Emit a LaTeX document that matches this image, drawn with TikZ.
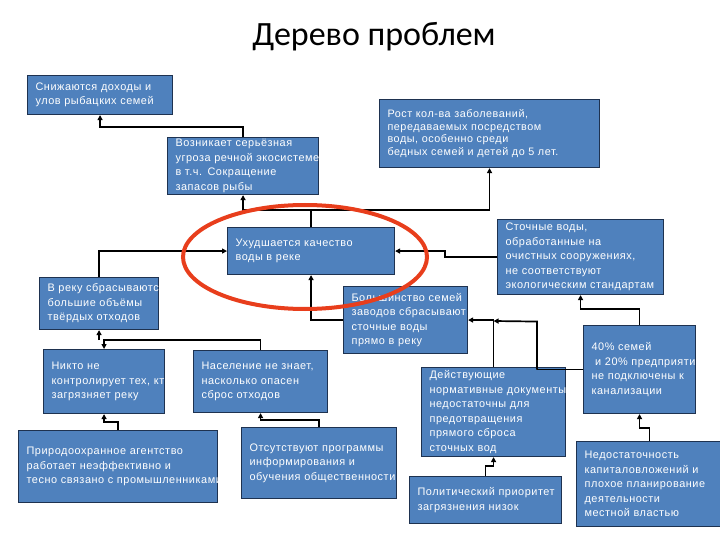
\documentclass[tikz,border=0pt]{standalone}
\usepackage{fontspec}
\setmainfont{Liberation Sans}[LetterSpace=5]
\newfontfamily\titlefont{Carlito}
\usetikzlibrary{arrows.meta}
\definecolor{boxfill}{RGB}{79,129,189}
\definecolor{boxline}{RGB}{30,50,80}
\definecolor{ovalred}{RGB}{232,62,28}
\hfuzz=300pt
\newcommand\Lx[1]{\mbox{#1}}
\newcommand\bx[7][]{%
  \pgfmathsetmacro\bw{#4-#2}\pgfmathsetmacro\bh{#5-#3}\pgfmathsetmacro\tw{#4-#2-16}%
  \begin{scope}
    \clip (#2-1,#3-1) rectangle (#4+1,#5+1);
    \node[box,#1,minimum width=\bw pt,minimum height=\bh pt,text width=\tw pt,anchor=north west] (#6) at (#2,#3) {#7};
  \end{scope}}
\begin{document}
\begin{tikzpicture}[x=1pt,y=-1pt,
  box/.style={draw=boxline,line width=1.1pt,fill=boxfill,text=white,align=left,
    inner xsep=8pt,inner ysep=1pt,font=\fontsize{10.9}{14.5}\selectfont},
  conn/.style={line width=1.7pt,-{Triangle[length=5pt,width=5pt]}},
  plain/.style={line width=1.7pt}]
\useasboundingbox (0,0) rectangle (720,540);
\node[font=\titlefont\fontsize{34}{38}\selectfont,anchor=base] (title) at (374,46) {Дерево проблем};
\bx{27}{75}{172}{114}{A}{\Lx{Снижаются доходы и}\\\Lx{улов рыбацких семей}}
\bx{167}{137}{318}{194}{B}{\Lx{Возникает серьёзная}\\\Lx{угроза речной экосистеме}\\\Lx{в т.ч. Сокращение}\\\Lx{запасов рыбы}}
\bx[font=\fontsize{10.8}{12.4}\selectfont]{379}{99}{599}{167}{C}{\Lx{Рост кол-ва заболеваний,}\\\Lx{передаваемых посредством}\\\Lx{воды, особенно среди}\\\Lx{бедных семей и детей до 5 лет.}}
\bx{227}{227}{394}{274}{D}{\Lx{Ухудшается качество}\\\Lx{воды в реке}}
\bx{39}{277}{158}{329}{E}{\Lx{В реку сбрасываются}\\\Lx{большие объёмы}\\\Lx{твёрдых отходов}}
\bx{343}{286}{467}{353}{F}{\Lx{Большинство семей}\\\Lx{заводов сбрасывают}\\\Lx{сточные воды}\\\Lx{прямо в реку}}
\bx{497}{219}{663}{294}{G}{\Lx{Сточные воды,}\\\Lx{обработанные на}\\\Lx{очистных сооружениях,}\\\Lx{не соответствуют}\\\Lx{экологическим стандартам}}
\bx{583}{325}{695}{413}{H}{\Lx{40\% семей}\\\Lx{\ и 20\% предприятий}\\\Lx{не подключены к}\\\Lx{канализации}}
\bx{43}{349}{164}{413}{I}{\Lx{Никто не}\\\Lx{контролирует тех, кто}\\\Lx{загрязняет реку}}
\bx{193}{350}{327}{412}{J}{\Lx{Население не знает,}\\\Lx{насколько опасен}\\\Lx{сброс отходов}}
\bx{421}{367}{565}{456}{K}{\Lx{Действующие}\\\Lx{нормативные документы}\\\Lx{недостаточны для}\\\Lx{предотвращения}\\\Lx{прямого сброса}\\\Lx{сточных вод}}
\bx{18}{430}{217}{502}{L}{\Lx{Природоохранное агентство}\\\Lx{работает неэффективно и}\\\Lx{тесно связано с промышленниками}}
\bx{241}{427}{396}{498}{M}{\Lx{Отсутствуют программы}\\\Lx{информирования и}\\\Lx{обучения общественности}}
\bx{409}{476}{561}{523}{N}{\Lx{Политический приоритет}\\\Lx{загрязнения низок}}
\bx{576}{441}{722}{526}{O}{\Lx{Недостаточность}\\\Lx{капиталовложений и}\\\Lx{плохое планирование}\\\Lx{деятельности}\\\Lx{местной властью}}
% connectors
\draw[conn] (B.north) -- ++(0,-10) -| (A.south);
\draw[plain] (D.north) -- ++(0,-17) coordinate (dj);
\draw[conn] (dj) -| (B.south);
\draw[conn] (dj) -| (C.south);
\draw[conn] (E.north) |- (D.west);
\draw[conn] (G.west) -- ++(-52,0) |- (D.east);
\draw[conn] (F.west) -| (D.south);
\draw[conn] (J.north) -- ++(0,-10) coordinate (jj) -| (I.north);
\draw[conn] (jj -| E.south) -- (E.south);
\draw[conn] (L.north) -- ++(0,-8) -| (I.south);
\draw[conn] (M.north) -- ++(0,-7) -| (J.south);
\draw[conn] (K.north) |- (F.east);
\draw[line width=1pt] (H.west) -- ++(-46,0) coordinate (hh);
\draw[conn] (hh) -- ++(0,-48) -- (K.north |- 0,321);
\draw[conn] (H.north) -- ++(0,-16) -| (G.south);
\draw[conn] (N.north) -- ++(0,-10) -| (K.south);
\draw[conn] (O.north) -- ++(0,-13) -| (H.south);
% red oval
\draw[ovalred,line width=4pt] (305,257) ellipse [x radius=122,y radius=52];
\end{tikzpicture}
\end{document}
